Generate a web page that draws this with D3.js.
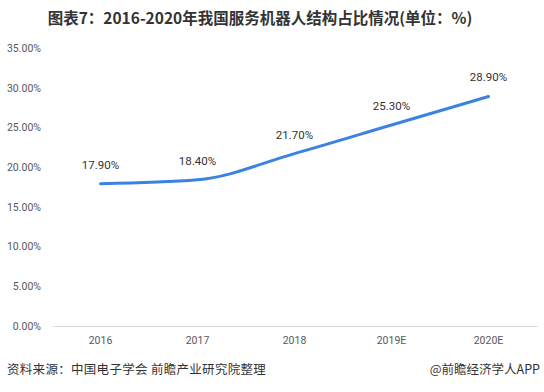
<!DOCTYPE html>
<html><head><meta charset="utf-8">
<script src="https://cdn.jsdelivr.net/npm/d3@7"></script>
<style>body{margin:0;background:#fff;}svg{display:block;font-family:"Microsoft YaHei","Noto Sans CJK SC",sans-serif;}</style>
</head><body><svg id="c" width="544" height="392"></svg>
<script>
const categories = ["2016","2017","2018","2019E","2020E"];
const values = [17.9, 18.4, 21.7, 25.3, 28.9];
const yTicks = [0,5,10,15,20,25,30,35];

const svg = d3.select("#c");
const x = d3.scaleBand().domain(categories).range([52,537]);
const y = d3.scaleLinear().domain([0,35]).range([326,48]);

svg.append("text").attr("x",260).attr("y",24).attr("text-anchor","middle")
  .attr("font-size",15.5).attr("font-weight","bold").attr("fill","#333")
  .text("图表7：2016-2020年我国服务机器人结构占比情况(单位：%)");

const yAxis = svg.append("g").attr("transform","translate(41,0)")
  .call(d3.axisLeft(y).tickValues(yTicks).tickSize(0).tickFormat(d=>d3.format(".2f")(d)+"%"));
yAxis.select(".domain").remove();
yAxis.selectAll("text").attr("font-size",10.5).attr("fill","#595959").attr("x",0)
  .style("font-family","Roboto,'Noto Sans',sans-serif");

const xAxis = svg.append("g").attr("transform","translate(0,326)")
  .call(d3.axisBottom(x).tickSize(0).tickPadding(11));
xAxis.select(".domain").attr("stroke","#d9d9d9").attr("stroke-width",1);
xAxis.selectAll("text").attr("font-size",10.5).attr("fill","#595959")
  .style("font-family","Roboto,'Noto Sans',sans-serif");

const cx = d => x(d) + x.bandwidth()/2;
const line = d3.line().x((d,i)=>cx(categories[i])).y(d=>y(d)).curve(d3.curveMonotoneX);
svg.append("path").datum(values).attr("d",line).attr("fill","none")
  .attr("stroke","#3b82e2").attr("stroke-width",3).attr("stroke-linecap","round");

svg.selectAll(".lbl").data(values).enter().append("text")
  .attr("x",(d,i)=>cx(categories[i])).attr("y",d=>y(d)-15)
  .attr("text-anchor","middle").attr("font-size",11.5).attr("fill","#333")
  .style("font-family","Roboto,'Noto Sans',sans-serif")
  .text(d=>d3.format(".2f")(d)+"%");

svg.append("text").attr("x",7).attr("y",374).attr("font-size",12.5).attr("fill","#333")
  .attr("letter-spacing",0.3)
  .text("资料来源：中国电子学会 前瞻产业研究院整理");
svg.append("text").attr("x",540).attr("y",374).attr("text-anchor","end").attr("font-size",12.5).attr("fill","#333")
  .text("@前瞻经济学人APP");
</script></body></html>
